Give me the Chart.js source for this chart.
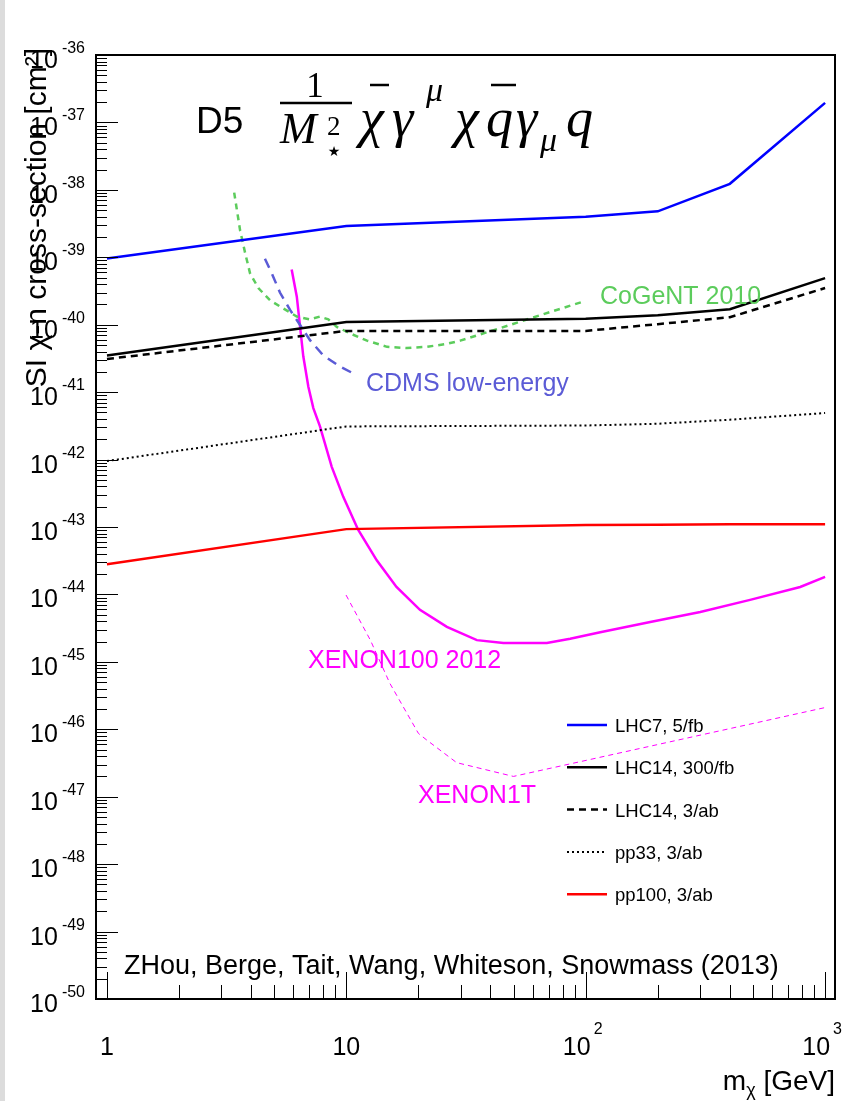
<!DOCTYPE html>
<html>
<head>
<meta charset="utf-8">
<script src="https://cdn.jsdelivr.net/npm/chart.js@4.4.0/dist/chart.umd.min.js"></script>
<style>
  html, body { margin: 0; padding: 0; background: #fff; }
  #wrap { position: relative; width: 860px; height: 1101px; }
</style>
</head>
<body>
<div id="wrap"><canvas id="chart"></canvas></div>
<script>
// ── Data (mass in GeV, cross-section in cm^2) ────────────────────────
const massLHC = [1, 10, 100, 200, 400, 1000];
const lhc7_5fb = [9.6e-40, 2.9e-39, 4.0e-39, 4.8e-39, 1.23e-38, 1.95e-37];
const lhc14_300fb = [3.5e-41, 1.1e-40, 1.23e-40, 1.38e-40, 1.7e-40, 4.9e-40];
const lhc14_3ab = [3.1e-41, 8.1e-41, 8.1e-41, 1.02e-40, 1.29e-40, 3.5e-40];
const pp33_3ab = [9.5e-43, 3.1e-42, 3.2e-42, 3.4e-42, 3.9e-42, 4.9e-42];
const pp100_3ab = [2.8e-44, 9.3e-44, 1.07e-43, 1.08e-43, 1.1e-43, 1.1e-43];

const cogentMass = [3.4, 3.6, 3.78, 3.96, 4.29, 4.8, 5.46, 6.21, 7.05, 7.76, 8.41, 9.12, 10.4, 12.2, 14.8, 17.9, 21.7, 26.3, 29.9, 43.9, 64.4, 97.5];
const cogentSigma = [9.1e-39, 2.5e-39, 1.15e-39, 5.8e-40, 3.5e-40, 2.3e-40, 1.74e-40, 1.32e-40, 1.2e-40, 1.32e-40, 1.2e-40, 9.3e-41, 7.4e-41, 5.8e-41, 4.7e-41, 4.5e-41, 4.7e-41, 5.2e-41, 5.8e-41, 8.9e-41, 1.38e-40, 2.2e-40];

const cdmsMass = [4.57, 4.88, 5.28, 5.82, 6.4, 7.05, 8.01, 9.41, 11.05];
const cdmsSigma = [9.5e-40, 5.8e-40, 3.0e-40, 1.66e-40, 1.0e-40, 5.9e-41, 3.5e-41, 2.4e-41, 1.78e-41];

const xenon100Mass = [5.91, 6.21, 6.41, 6.61, 6.94, 7.28, 7.76, 8.69, 9.71, 11.2, 13.4, 16.2, 20.3, 26.3, 35.1, 45.3, 68.8, 86.1, 115, 186, 301, 486, 787, 1000];
const xenon100Sigma = [6.6e-40, 2.6e-40, 9.3e-41, 3.4e-41, 1.2e-41, 5.8e-42, 3.1e-42, 7.8e-43, 2.8e-43, 9.1e-44, 3.2e-44, 1.29e-44, 5.9e-45, 3.3e-45, 2.1e-45, 1.9e-45, 1.9e-45, 2.2e-45, 2.75e-45, 3.9e-45, 5.5e-45, 8.3e-45, 1.29e-44, 1.82e-44];

const xenon1tMass = [9.97, 12.6, 15.2, 20.0, 21.7, 28.9, 49.9, 1000];
const xenon1tSigma = [9.8e-45, 2.1e-45, 4.8e-46, 8.7e-47, 6.9e-47, 3.2e-47, 2.0e-47, 2.1e-46];

const xMajorTicks = [1, 10, 100, 1000];
const xTickLabels = [['1', ''], ['10', ''], ['10', '2'], ['10', '3']];
const yDecades = [-50, -49, -48, -47, -46, -45, -44, -43, -42, -41, -40, -39, -38, -37, -36];

const legendLabels = ['LHC7, 5/fb', 'LHC14, 300/fb', 'LHC14, 3/ab', 'pp33, 3/ab', 'pp100, 3/ab'];

const SANS = '"Liberation Sans", Arial, sans-serif';
const SERIF = '"Liberation Serif", "DejaVu Serif", serif';

function pts(xs, ys) {
    return xs.map((v, i) => ({ x: v, y: ys[i] }));
}

function line(ctx, x1, y1, x2, y2) {
    ctx.beginPath();
    ctx.moveTo(x1, y1);
    ctx.lineTo(x2, y2);
    ctx.stroke();
}

function text(ctx, str, x, y, font, color, align) {
    ctx.font = font;
    ctx.fillStyle = color || '#000';
    ctx.textAlign = align || 'left';
    ctx.textBaseline = 'alphabetic';
    ctx.fillText(str, x, y);
}

// ── ROOT-style frame, ticks, labels and annotations ─────────────────
const rootDecor = {
    id: 'rootDecor',
    beforeDraw(chart) {
        const { ctx, width, height } = chart;
        ctx.save();
        ctx.fillStyle = '#fff';
        ctx.fillRect(0, 0, width, height);
        ctx.fillStyle = '#dcdcdc';
        ctx.fillRect(0, 0, 5, height);
        ctx.restore();
    },
    afterDraw(chart) {
        const { ctx, chartArea: a, scales: { x, y } } = chart;
        ctx.save();

        // frame
        ctx.strokeStyle = '#000';
        ctx.lineWidth = 2;
        ctx.strokeRect(a.left, a.top, a.right - a.left, a.bottom - a.top);

        // x ticks (bottom, pointing up)
        ctx.lineWidth = 1;
        for (let d = 0; d <= 3; d++) {
            for (let m = 1; m <= 9; m++) {
                const v = m * Math.pow(10, d);
                if (v > 1000) break;
                const px = Math.round(x.getPixelForValue(v)) + 0.5;
                line(ctx, px, a.bottom, px, a.bottom - (m === 1 ? 27 : 14));
            }
        }
        // y ticks (left, pointing right)
        yDecades.forEach(e => {
            for (let m = 1; m <= 9; m++) {
                if (e === -36 && m > 1) break;
                const py = Math.round(y.getPixelForValue(m * Number('1e' + e))) + 0.5;
                line(ctx, a.left, py, a.left + (m === 1 ? 22 : 11), py);
            }
        });

        // y tick labels
        yDecades.forEach(e => {
            const py = y.getPixelForValue(Number('1e' + e));
            const exp = String(e);
            ctx.font = '16px ' + SANS;
            const we = ctx.measureText(exp).width;
            text(ctx, exp, 85, py - 2, '16px ' + SANS, '#000', 'right');
            text(ctx, '10', 85 - we - 4, py + 13, '25px ' + SANS, '#000', 'right');
        });

        // x tick labels
        xMajorTicks.forEach((v, i) => {
            const px = x.getPixelForValue(v);
            const [base, exp] = xTickLabels[i];
            ctx.font = '25px ' + SANS;
            const wb = ctx.measureText(base).width;
            ctx.font = '16px ' + SANS;
            const we = exp ? ctx.measureText(exp).width + 3 : 0;
            const start = px - (wb + we) / 2 - (exp ? 3 : 0);
            text(ctx, base, start, 1055, '25px ' + SANS);
            if (exp) text(ctx, exp, start + wb + 3, 1034, '16px ' + SANS);
        });

        // axis titles
        ctx.font = '28px ' + SANS;
        const wGeV = ctx.measureText(' [GeV]').width;
        text(ctx, ' [GeV]', 835, 1090, '28px ' + SANS, '#000', 'right');
        ctx.font = '18px ' + SANS;
        const wChi = ctx.measureText('\u03c7').width;
        text(ctx, '\u03c7', 835 - wGeV, 1096, '18px ' + SANS, '#000', 'right');
        text(ctx, 'm', 835 - wGeV - wChi, 1090, '28px ' + SANS, '#000', 'right');

        ctx.save();
        ctx.translate(46, 48);
        ctx.rotate(-Math.PI / 2);
        text(ctx, 'SI \u03c7-n cross-section [cm\u00b2]', 0, 0, '30px ' + SANS, '#000', 'right');
        ctx.restore();

        // title: D5  (1/M*^2) chibar gamma^mu chi qbar gamma_mu q
        text(ctx, 'D5', 196, 133, '37px ' + SANS);
        text(ctx, '1', 315, 97, '35px ' + SERIF, '#000', 'center');
        ctx.lineWidth = 2.5;
        line(ctx, 280, 103, 352, 103);
        text(ctx, 'M', 280, 143, 'italic 44px ' + SERIF);
        text(ctx, '2', 327, 135, '27px ' + SERIF);
        text(ctx, '\u2605', 334, 156, '14px "DejaVu Sans", sans-serif', '#000', 'center');
        const big = 'italic 54px ' + SERIF;
        text(ctx, '\u03c7', 360, 136, big);
        line(ctx, 370, 85, 389, 85);
        text(ctx, '\u03b3', 392, 136, big);
        text(ctx, '\u03bc', 426, 101, 'italic 34px ' + SERIF);
        text(ctx, '\u03c7', 455, 136, big);
        text(ctx, 'q', 486, 136, big);
        line(ctx, 491, 85, 516, 85);
        text(ctx, '\u03b3', 516, 136, big);
        text(ctx, '\u03bc', 540, 151, 'italic 34px ' + SERIF);
        text(ctx, 'q', 566, 136, big);

        // curve annotations
        text(ctx, 'CoGeNT 2010', 600, 304, '25px ' + SANS, '#5ccc5c');
        text(ctx, 'CDMS low-energy', 366, 391, '25px ' + SANS, '#5b5bd6');
        text(ctx, 'XENON100 2012', 308, 668, '25px ' + SANS, '#ff00ff');
        text(ctx, 'XENON1T', 418, 803, '25px ' + SANS, '#ff00ff');
        text(ctx, 'ZHou, Berge, Tait, Wang, Whiteson, Snowmass (2013)', 124, 974, '27px ' + SANS);

        // legend
        legendLabels.forEach((lab, i) => {
            const ds = chart.data.datasets[i];
            const ly = 725 + i * 42.3;
            ctx.strokeStyle = ds.borderColor;
            ctx.lineWidth = ds.borderWidth;
            ctx.setLineDash(ds.borderDash || []);
            line(ctx, 567, ly, 607, ly);
            ctx.setLineDash([]);
            ctx.font = '18.5px ' + SANS;
            ctx.fillStyle = '#000';
            ctx.textAlign = 'left';
            ctx.textBaseline = 'middle';
            ctx.fillText(lab, 615, ly + 2);
        });

        ctx.restore();
    }
};

function series(label, xs, ys, color, width, dash) {
    return {
        label,
        data: pts(xs, ys),
        borderColor: color,
        backgroundColor: color,
        borderWidth: width,
        borderDash: dash,
        pointRadius: 0,
        tension: 0,
        fill: false,
    };
}

new Chart(document.getElementById('chart'), {
    type: 'line',
    data: {
        datasets: [
            series('LHC7, 5/fb', massLHC, lhc7_5fb, '#0000ff', 2.5, []),
            series('LHC14, 300/fb', massLHC, lhc14_300fb, '#000000', 2.5, []),
            series('LHC14, 3/ab', massLHC, lhc14_3ab, '#000000', 2.5, [7, 5]),
            series('pp33, 3/ab', massLHC, pp33_3ab, '#000000', 2, [2, 3]),
            series('pp100, 3/ab', massLHC, pp100_3ab, '#ff0000', 2.5, []),
            series('CoGeNT 2010', cogentMass, cogentSigma, '#5ccc5c', 2.5, [6, 5]),
            series('CDMS low-energy', cdmsMass, cdmsSigma, '#5b5bd6', 2.5, [10, 7]),
            series('XENON100 2012', xenon100Mass, xenon100Sigma, '#ff00ff', 2.5, []),
            series('XENON1T', xenon1tMass, xenon1tSigma, '#ff00ff', 1, [5, 4]),
        ]
    },
    options: {
        responsive: true,
        maintainAspectRatio: false,
        animation: false,
        devicePixelRatio: 1,
        layout: { padding: { left: 96, right: 25, top: 55, bottom: 102 } },
        plugins: {
            legend: { display: false },
            tooltip: { enabled: false },
        },
        scales: {
            x: { type: 'logarithmic', min: 0.9, max: 1100, display: false },
            y: { type: 'logarithmic', min: 1e-50, max: 1e-36, display: false },
        }
    },
    plugins: [rootDecor]
});
</script>
</body>
</html>
